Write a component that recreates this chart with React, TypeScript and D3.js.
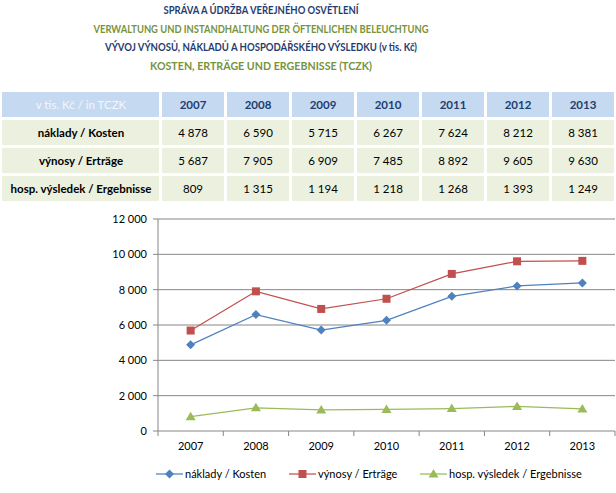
import React from "react";
import * as d3 from "d3";

const years = ["2007", "2008", "2009", "2010", "2011", "2012", "2013"];
const costs = [4878, 6590, 5715, 6267, 7624, 8212, 8381];
const revenues = [5687, 7905, 6909, 7485, 8892, 9605, 9630];
const result = [809, 1315, 1194, 1218, 1268, 1393, 1249];
const rowLabels = ["náklady / Kosten", "výnosy / Erträge", "hosp. výsledek / Ergebnisse"];
const yTicks = [0, 2000, 4000, 6000, 8000, 10000, 12000];
const titleLines = [
  "SPRÁVA A ÚDRŽBA VEŘEJNÉHO OSVĚTLENÍ",
  "VERWALTUNG UND INSTANDHALTUNG DER ÖFTENLICHEN BELEUCHTUNG",
  "VÝVOJ VÝNOSŮ, NÁKLADŮ A HOSPODÁŘSKÉHO VÝSLEDKU (v tis. Kč)",
  "KOSTEN, ERTRÄGE UND ERGEBNISSE (TCZK)",
];

const W = 616, H = 493;
const FONT = "Lato, 'Open Sans', sans-serif";
const BLUE = "#4F81BD", RED = "#C0504D", GREEN = "#9BBB59";
const fmt = (v: number) => d3.format(",")(v).replace(/,/g, " ");

export default function App() {
  const x = d3.scaleBand().domain(years).range([158, 615]);
  const y = d3.scaleLinear().domain([0, 12000]).range([431, 219]);
  const line = d3.line<number>().x((_, i) => x(years[i])! + x.bandwidth() / 2).y((d) => y(d));
  const series = [
    { name: rowLabels[0], values: costs, color: BLUE, marker: "diamond" },
    { name: rowLabels[1], values: revenues, color: RED, marker: "square" },
    { name: rowLabels[2], values: result, color: GREEN, marker: "triangle" },
  ];
  const marker = (type: string, cx: number, cy: number, color: string, key: any) => {
    if (type === "diamond")
      return <path key={key} d={`M${cx},${cy - 4.5}L${cx + 4.5},${cy}L${cx},${cy + 4.5}L${cx - 4.5},${cy}Z`} fill={color} />;
    if (type === "square")
      return <rect key={key} x={cx - 4} y={cy - 4} width={8} height={8} fill={color} />;
    return <path key={key} d={`M${cx},${cy - 5}L${cx + 5},${cy + 3.5}L${cx - 5},${cy + 3.5}Z`} fill={color} />;
  };
  const colX = (i: number) => 162 + i * 65;
  const rowY = (r: number) => 92 + r * 28;
  const rows = [costs, revenues, result];
  const titleW = [195, 335, 312, 222];
  return (
    <svg width={W} height={H} style={{ position: "absolute", left: 0, top: 0, background: "#fff" }} fontFamily={FONT}>
      {titleLines.map((t, i) => (
        <text key={i} x={261} y={[14, 33, 51, 70][i]} textAnchor="middle" fontSize={11} fontWeight="bold"
          textLength={titleW[i]} lengthAdjust="spacingAndGlyphs"
          fill={i % 2 === 0 ? "#1F3D6E" : "#77933C"}>{t}</text>
      ))}
      {/* header */}
      <rect x={2} y={rowY(0)} width={157} height={25} fill="#C5D9F1" />
      <text x={81} y={rowY(0) + 12.5} dy="0.35em" textAnchor="middle" fontSize={11.5} fill="#F4F7FB">v tis. Kč / in TCZK</text>
      {years.map((yr, i) => (
        <g key={yr}>
          <rect x={colX(i)} y={rowY(0)} width={62} height={25} fill="#C5D9F1" />
          <text x={colX(i) + 31} y={rowY(0) + 12.5} dy="0.35em" textAnchor="middle" fontSize={11.5} fontWeight="bold" fill="#1F3D6E">{yr}</text>
        </g>
      ))}
      {rows.map((vals, r) => (
        <g key={r}>
          <rect x={2} y={rowY(r + 1)} width={157} height={25} fill="#EBF1DE" />
          <text x={81} y={rowY(r + 1) + 12.5} dy="0.35em" textAnchor="middle" fontSize={11.5} fontWeight="bold" fill="#000">{rowLabels[r]}</text>
          {vals.map((v, i) => (
            <g key={i}>
              <rect x={colX(i)} y={rowY(r + 1)} width={62} height={25} fill="#EBF1DE" />
              <text x={colX(i) + 31} y={rowY(r + 1) + 12.5} dy="0.35em" textAnchor="middle" fontSize={11.5} fill="#000">{fmt(v)}</text>
            </g>
          ))}
        </g>
      ))}
      {/* grid */}
      {yTicks.map((t) => (
        <g key={t}>
          {t > 0 && <line x1={158} x2={615} y1={y(t)} y2={y(t)} stroke="#868686" strokeWidth={1} />}
          <line x1={153} x2={158} y1={y(t)} y2={y(t)} stroke="#868686" />
          <text x={147} y={y(t)} dy="0.35em" textAnchor="end" fontSize={11} fill="#000">{fmt(t)}</text>
        </g>
      ))}
      <line x1={158} x2={158} y1={219} y2={431} stroke="#868686" />
      <line x1={158} x2={615} y1={431} y2={431} stroke="#868686" />
      {d3.range(8).map((k) => (
        <line key={k} x1={158 + k * x.step()} x2={158 + k * x.step()} y1={431} y2={436} stroke="#868686" />
      ))}
      {years.map((yr) => (
        <text key={yr} x={x(yr)! + x.bandwidth() / 2} y={446} dy="0.35em" textAnchor="middle" fontSize={11} fill="#000">{yr}</text>
      ))}
      {series.map((s) => (
        <g key={s.name}>
          <path d={line(s.values)!} fill="none" stroke={s.color} strokeWidth={1.25} />
          {s.values.map((v, i) => marker(s.marker, x(years[i])! + x.bandwidth() / 2, y(v), s.color, i))}
        </g>
      ))}
      {/* legend */}
      {series.map((s, i) => {
        const lx = [156, 289, 420][i];
        return (
          <g key={s.name}>
            <line x1={lx} x2={lx + 27} y1={474} y2={474} stroke={s.color} strokeWidth={1.25} />
            {marker(s.marker, lx + 13.5, 474, s.color, "m")}
            <text x={lx + 29} y={474} dy="0.35em" fontSize={11} fill="#000">{s.name}</text>
          </g>
        );
      })}
    </svg>
  );
}
